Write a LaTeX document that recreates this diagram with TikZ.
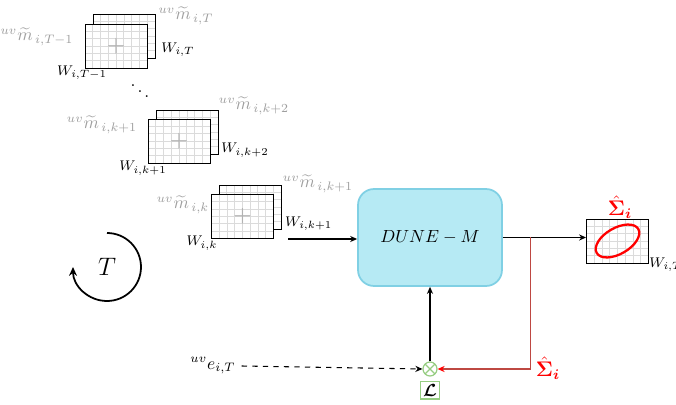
\documentclass[tikz,border=0pt]{standalone}
\usepackage{amsmath}
\usepackage{amssymb}
\usepackage{xcolor}
\usetikzlibrary{arrows.meta,positioning,calc}

\definecolor{dunefill}{RGB}{182,234,244}
\definecolor{duneedge}{RGB}{128,208,228}
\definecolor{lossgreen}{RGB}{150,205,130}
\definecolor{fbred}{RGB}{190,72,66}

\begin{document}
\begin{tikzpicture}[x=0.02cm, y=0.02cm,
    card/.style={draw, fill=white, line width=0.5pt, minimum width=1.24cm, minimum height=0.88cm, inner sep=0pt,
                 path picture={
                   \foreach \k in {1,...,7}
                     \draw[black!14] ($(path picture bounding box.south west)!\k/8!(path picture bounding box.south east)$)
                                  -- ($(path picture bounding box.north west)!\k/8!(path picture bounding box.north east)$);
                   \foreach \k in {1,...,5}
                     \draw[black!14] ($(path picture bounding box.south west)!\k/6!(path picture bounding box.north west)$)
                                  -- ($(path picture bounding box.south east)!\k/6!(path picture bounding box.north east)$);
                 }},
    front/.style={card, font=\large\bfseries, text=black!30},
    mlbl/.style={text=black!38, font=\normalsize},
    wlbl/.style={font=\footnotesize},
    sig/.style={text=red, font=\large},
    dune/.style={draw=duneedge, fill=dunefill, line width=1pt, rounded corners=0.32cm,
                 minimum width=2.88cm, minimum height=1.94cm},
    sum/.style={circle, draw=lossgreen, line width=0.7pt, minimum size=0.28cm, inner sep=0pt,
                path picture={\draw[lossgreen, line width=0.7pt]
                  (path picture bounding box.north west) -- (path picture bounding box.south east)
                  (path picture bounding box.north east) -- (path picture bounding box.south west);}},
    lossbox/.style={draw=lossgreen, line width=0.9pt, inner sep=1.5pt},
    arrow/.style={-{Stealth[length=4pt, width=3.5pt]}, line width=0.6pt},
    fb/.style={-{Stealth[length=4pt, width=3.5pt, red]}, draw=fbred, line width=0.6pt},
]
\useasboundingbox (0,0) rectangle (676,-405);

% Stack at T
\node[card] (bT) at (124,-36) {};
\node[front] (fT) at (116,-46) {+};
\node[mlbl] (mT1) at (37,-37) {${}^{uv}\widetilde{m}_{\,i,T-1}$};
\node[mlbl] (mT) at (186,-16) {${}^{uv}\widetilde{m}_{\,i,T}$};
\node[wlbl] (wT) at (178,-50) {$W_{i,T}$};
\node[wlbl] (wT1) at (82,-73) {$W_{i,T-1}$};
\node (dots) at (140,-86) {$\ddots$};

% Stack at k+1
\node[card] (bk2) at (187,-132) {};
\node[front] (fk1) at (179,-141) {+};
\node[mlbl] (mk1) at (102,-125) {${}^{uv}\widetilde{m}_{\,i,k+1}$};
\node[mlbl] (mk2) at (254,-106) {${}^{uv}\widetilde{m}_{\,i,k+2}$};
\node[wlbl] (wk2) at (245,-150) {$W_{i,k+2}$};
\node[wlbl] (wk1) at (143,-168) {$W_{i,k+1}$};

% Stack at k
\node[card] (bk1) at (250,-207) {};
\node[front] (fk) at (242.5,-216.5) {+};
\node[mlbl] (mk) at (183,-205) {${}^{uv}\widetilde{m}_{\,i,k}$};
\node[mlbl] (mkk1) at (318,-184) {${}^{uv}\widetilde{m}_{\,i,k+1}$};
\node[wlbl] (wk) at (202,-243) {$W_{i,k}$};

% Time loop
\node[font=\Large] (cyc) at (107,-267) {$T$};
\draw[-{Stealth[length=5pt, width=4.5pt]}, line width=1pt] ($(cyc)+(0,34)$) arc[start angle=90, end angle=-180, radius=34];

% Model
\node[dune] (dune) at (430,-237.5) {$DUNE-M$};

% Output
\node[card] (out) at (617.5,-241) {};
\draw[red, line width=1.3pt, rotate around={30:(out.center)}] (out.center) ellipse [x radius=24, y radius=13];
\node[sig] (sigout) at (620,-207) {$\hat{\boldsymbol{\Sigma}}_{\boldsymbol{i}}$};
\node[wlbl] (wout) at (666,-265) {$W_{i,T}$};

% Loss
\node[sum] (sum) at (430,-369) {};
\node[lossbox, below=0.08cm of sum] (loss) {$\boldsymbol{\mathcal{L}}$};
\node (err) at (213,-366) {${}^{uv}e_{i,T}$};
\node[sig] (sigfb) at (548,-368) {$\hat{\boldsymbol{\Sigma}}_{\boldsymbol{i}}$};

% Arrows
\coordinate (win) at (288,-239);
\draw[arrow] (win) -- (win -| dune.west) node[wlbl, pos=0.3, above=1pt] (wkin) {$W_{i,k+1}$};
\draw[arrow] (dune.east) -- (dune.east -| out.west) coordinate[pos=0.33] (tap);
\draw[fb] (tap) |- (sum.east);
\draw[arrow] (sum.north) -- (dune.south);
\draw[arrow, dashed] (err.east) -- (sum.west);
\end{tikzpicture}
\end{document}
